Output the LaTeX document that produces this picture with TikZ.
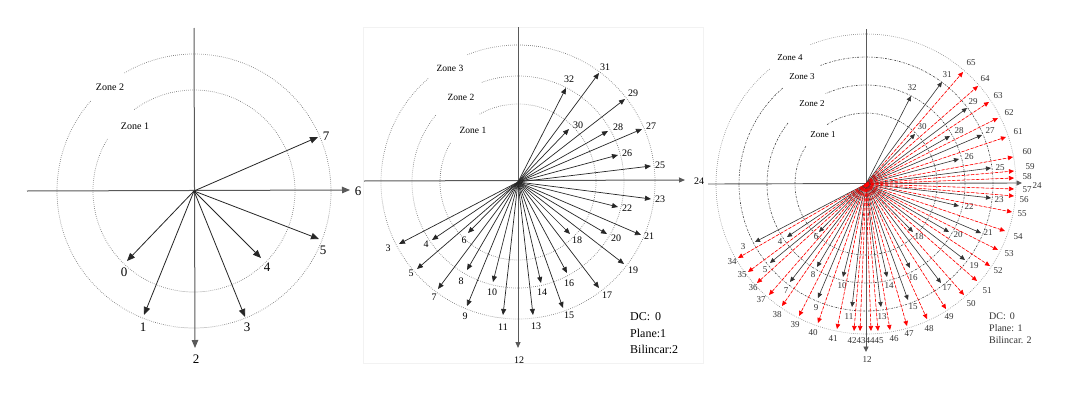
\documentclass[tikz,border=0pt]{standalone}
\usepackage{fontspec}
\setmainfont{Liberation Serif}
\usetikzlibrary{arrows.meta,calc}
\begin{document}
\begin{tikzpicture}[x=1pt,y=-1pt,
  axisline/.style={draw=black!65,line width=1pt},
  zonedot/.style={draw=black!55,line width=0.7pt,dash pattern=on 0.6pt off 1.4pt},
  zonedd/.style={draw=black!75,line width=0.6pt,dash pattern=on 1.8pt off 1.2pt on 0.5pt off 1.2pt},
  zonelight/.style={draw=black!45,line width=0.6pt,dash pattern=on 0.7pt off 1.3pt},
  arrone/.style={draw=black!85,line width=0.8pt,-{Triangle[length=8pt,width=6.5pt]}},
  arrtwo/.style={draw=black!85,line width=0.7pt,-{Triangle[length=6pt,width=5pt]}},
  arrthree/.style={draw=black!80,line width=0.6pt,-{Triangle[length=5pt,width=4.5pt]}},
  arrred/.style={draw=red,line width=0.6pt,dash pattern=on 3pt off 1.8pt,-{Triangle[length=5pt,width=4.5pt]},fill=red},
  labone/.style={inner sep=0pt,font=\fontsize{13}{13}\selectfont},
  labtwo/.style={inner sep=0pt,font=\fontsize{10}{10}\selectfont},
  labthree/.style={inner sep=0pt,font=\fontsize{9}{9}\selectfont,text=black!80},
  zonelab/.style={inner sep=0pt,font=\fontsize{9.5}{9.5}\selectfont},
  infotext/.style={inner sep=0pt,anchor=west,align=left}
]
\useasboundingbox (0,0) rectangle (1080,399);
\fill[white] (0,0) rectangle (1080,399);

% ================= Panel 1 =================
\coordinate (c1) at (194,191);
\draw[zonedot] ($(c1)+(-149:101)$) arc[start angle=-149,end angle=-487,radius=101];
\draw[zonedot] ($(c1)+(-139:137)$) arc[start angle=-139,end angle=-481,radius=137];
\node[zonelab,font=\fontsize{10}{10}\selectfont] (z1b) at (110,87) {Zone 2};
\node[zonelab,font=\fontsize{10}{10}\selectfont] (z1a) at (135,126) {Zone 1};
\coordinate (a1top) at (194,28);
\coordinate (a1left) at (27,191);
\coordinate (t1-2) at (195,348);
\coordinate (t1-6) at (350,190);
\draw[axisline,-{Triangle[length=8pt,width=6.5pt]}] (a1top) -- (t1-2);
\draw[axisline,-{Triangle[length=8pt,width=6.5pt]}] (a1left) -- (t1-6);
\node[labone] (l1-2) at (196,359) {2};
\node[labone] (l1-6) at (358,191) {6};
\foreach \n/\x/\y/\lx/\ly in {0/127/261/124/272, 1/144/315/143/327, 3/245/317/247/327,
  4/261/258/267/267, 5/319/239/323/250, 7/318/137/326/136}{
  \coordinate (t1-\n) at (\x,\y);
  \draw[arrone] (c1) -- (t1-\n);
  \node[labone] (l1-\n) at (\lx,\ly) {\n};
}

% ================= Panel 2 =================
\draw[black!5,line width=0.6pt] (363,27) rectangle (703,363);
\coordinate (c2) at (518,182);
\draw[zonedot] ($(c2)+(-150:78)$) arc[start angle=-150,end angle=-480,radius=78];
\draw[zonedot] ($(c2)+(-141:106)$) arc[start angle=-141,end angle=-470,radius=106];
\draw[zonedot] ($(c2)+(-131:137)$) arc[start angle=-131,end angle=-472,radius=137];
\node[zonelab] (z2c) at (450,68) {Zone 3};
\node[zonelab] (z2b) at (461,97) {Zone 2};
\node[zonelab] (z2a) at (473,130) {Zone 1};
\coordinate (a2top) at (518,27);
\coordinate (a2left) at (364,181);
\coordinate (t2-12) at (518,348);
\coordinate (t2-24) at (685,180);
\draw[axisline,-{Triangle[length=6pt,width=5pt]}] (a2top) -- (t2-12);
\draw[axisline,-{Triangle[length=6pt,width=5pt]}] (a2left) -- (t2-24);
\node[labtwo] (l2-12) at (519,360) {12};
\node[labtwo] (l2-24) at (699,181) {24};
\foreach \n/\x/\y/\lx/\ly in {3/399/244/388/248, 4/432/240/426/244, 5/417/269/411/273,
  6/468/233/464/240, 7/438/289/434/297, 8/467/270/461/281, 9/467/306/465/316,
  10/493/282/492/292, 11/503/315/503/327, 13/533/315/536/326, 14/541/283/542/292,
  15/563/308/569/315, 16/567/273/569/283, 17/599/288/607/295, 18/570/234/577/240,
  19/624/264/633/270, 20/607/234/616/238, 21/641/235/649/236, 22/618/207/627/208,
  23/651/199/660/199, 25/651/166/660/165, 26/618/155/627/153, 27/642/129/651/126,
  28/608/131/618/127, 29/625/99/633/93, 30/569/129/578/125, 31/599/73/605/67,
  32/566/88/569/79}{
  \coordinate (t2-\n) at (\x,\y);
  \draw[arrtwo] (c2) -- (t2-\n);
  \node[labtwo] (l2-\n) at (\lx,\ly) {\n};
}
\node[infotext,font=\fontsize{12}{12}\selectfont] (info2a) at (630,317) {DC:\hspace{5pt}0};
\node[infotext,font=\fontsize{12}{12}\selectfont] (info2b) at (630,333) {Plane:1};
\node[infotext,font=\fontsize{12}{12}\selectfont] (info2c) at (630,349) {Bilincar:2};

% ================= Panel 3 =================
\coordinate (c3) at (866,184);
\draw[zonedd] ($(c3)+(-148:71)$) arc[start angle=-148,end angle=-484,radius=71];
\draw[zonedd] ($(c3)+(-142:99)$) arc[start angle=-142,end angle=-474,radius=99];
\draw[zonedd] ($(c3)+(-131:127)$) arc[start angle=-131,end angle=-471,radius=127];
\draw[zonelight] ($(c3)+(-130:150)$) arc[start angle=-130,end angle=-472,radius=150];
\node[zonelab,font=\fontsize{9}{9}\selectfont] (z3d) at (790,58) {Zone 4};
\node[zonelab,font=\fontsize{9}{9}\selectfont] (z3c) at (802,77) {Zone 3};
\node[zonelab,font=\fontsize{9}{9}\selectfont] (z3b) at (812,104) {Zone 2};
\node[zonelab,font=\fontsize{9}{9}\selectfont] (z3a) at (823,135) {Zone 1};
\coordinate (a3top) at (866,29);
\coordinate (a3left) at (708,184);
\coordinate (t3-12) at (866,352);
\coordinate (t3-24) at (1022,183);
\draw[axisline,line width=0.9pt,-{Triangle[length=5.5pt,width=5pt]}] (a3top) -- (t3-12);
\draw[axisline,line width=0.9pt,-{Triangle[length=5.5pt,width=5pt]}] (a3left) -- (t3-24);
\node[labthree] (l3-12) at (867,360) {12};
\node[labthree] (l3-24) at (1037,186) {24};
\foreach \n/\x/\y/\lx/\ly in {3/755/242/743/247, 4/787/237/780/242, 5/770/263/765/270,
  6/819/232/816/237, 7/790/282/786/291, 8/817/267/813/275, 9/818/298/816/308,
  10/843/277/842/286, 11/852/307/849/317, 13/881/307/882/317, 14/887/277/889/286,
  15/908/300/913/307, 16/910/268/913/278, 17/941/283/947/288, 18/913/232/919/237,
  19/965/260/974/266, 20/949/232/958/235, 21/981/233/988/233, 22/959/206/969/207,
  23/991/198/999/200, 25/991/168/1000/168, 26/959/159/969/157, 27/982/135/990/131,
  28/950/136/959/131, 29/967/108/973/102, 30/915/134/922/127, 31/942/82/947/75,
  32/911/96/912/88}{
  \coordinate (t3-\n) at (\x,\y);
  \draw[arrthree] (c3) -- (t3-\n);
  \node[labthree] (l3-\n) at (\lx,\ly) {\n};
}
\foreach \n/\x/\y/\lx/\ly in {34/738/258/732/262, 35/748/272/742/275, 36/757/283/753/288,
  37/769/295/761/300, 38/782/306/777/315, 39/799/316/795/325, 40/818/323/813/333,
  41/837/329/833/339, 42/854/331/852/341, 43/860/331/861/341, 44/871/331/870/341,
  45/878/331/879/341, 46/890/330/894/339, 47/907/326/909/334, 48/927/319/929/329,
  49/946/309/949/317, 50/964/295/971/304, 51/977/281/987/291, 52/990/266/998/271,
  53/998/250/1009/254, 54/1005/231/1018/237, 55/1012/212/1022/214, 56/1014/196/1024/200,
  57/1014/189/1027/190, 58/1014/178/1027/177, 59/1014/171/1030/167, 60/1013/157/1027/152,
  61/1006/137/1018/132, 62/998/118/1009/113, 63/989/102/998/96, 64/978/86/985/79,
  65/963/72/971/63}{
  \coordinate (t3-\n) at (\x,\y);
  \draw[arrred] (c3) -- (t3-\n);
  \node[labthree] (l3-\n) at (\lx,\ly) {\n};
}
\node[infotext,font=\fontsize{10}{10}\selectfont,text=black!80] (info3a) at (989,316) {DC:\hspace{4pt}0};
\node[infotext,font=\fontsize{10}{10}\selectfont,text=black!80] (info3b) at (989,328) {Plane: 1};
\node[infotext,font=\fontsize{10}{10}\selectfont,text=black!80] (info3c) at (989,340) {Bilincar. 2};
\end{tikzpicture}
\end{document}
